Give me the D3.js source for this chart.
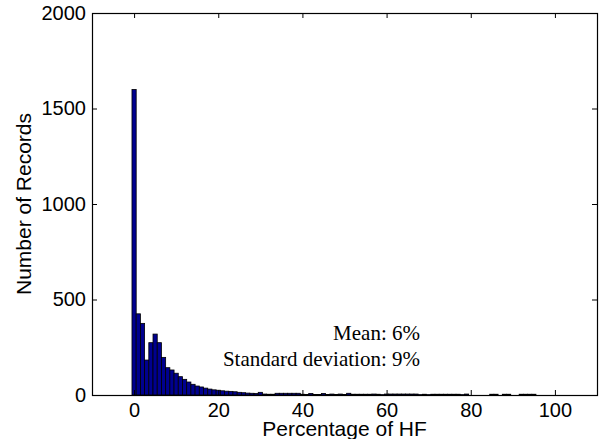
<!DOCTYPE html>
<html>
<head>
<meta charset="utf-8">
<script src="https://d3js.org/d3.v7.min.js"></script>
<style>
  body { margin: 0; background: #fff; }
  .axis text { font-family: "Liberation Sans", Arial, sans-serif; font-size: 20px; fill: #000; }
  .axis line { stroke: #000; }
</style>
</head>
<body>
<script>
//////////////// Data ////////////////////
var binCenters = d3.range(0, 101); // 0..100 %
var counts = [
  1600, 425, 375, 183, 274, 319, 274, 197, 143, 131,
  114, 96, 82, 68, 56, 47, 42, 36, 31, 27,
  25, 22, 20, 19, 17, 14, 12, 10, 9, 8,
  14, 5, 4, 4, 9, 9, 9, 9, 9, 9,
  4, 3, 8, 3, 3, 8, 3, 5, 3, 5,
  3, 9, 4, 4, 4, 4, 4, 5, 4, 2,
  5, 5, 5, 5, 5, 5, 5, 5, 2, 4,
  2, 4, 4, 4, 4, 4, 4, 4, 2, 5,
  0, 0, 0, 0, 0, 4, 4, 0, 4, 4,
  0, 0, 4, 4, 4, 4, 0, 0, 0, 0,
  0
];
var xTicks = [0, 20, 40, 60, 80, 100];
var yTicks = [0, 500, 1000, 1500, 2000];
var statLines = ["Mean: 6%", "Standard deviation: 9%"];

var bins = binCenters.map(function(c, i){
  return {x0: c - 0.5, x1: c + 0.5, n: counts[i]};
});

//////////////// Variables ////////////////////
var W = 601, H = 439;
var mLeft = 92, mRight = 597, mTop = 13, mBottom = 395;

var x = d3.scaleLinear().domain([-10, 110]).range([mLeft, mRight]);
var y = d3.scaleLinear().domain([0, 2000]).range([mBottom, mTop]);

var svg = d3.select("body").append("svg")
  .attr("width", W)
  .attr("height", H)
  .style("background", "#fff");

//////////////// Bars ////////////////////
svg.append("g").selectAll("rect")
  .data(bins)
  .enter()
  .append("rect")
  .attr("x", function(d){ return x(d.x0); })
  .attr("width", function(d){ return x(d.x1) - x(d.x0); })
  .attr("y", function(d){ return y(d.n); })
  .attr("height", function(d){ return y(0) - y(d.n); })
  .attr("fill", "#00008f")
  .attr("stroke", "#000")
  .attr("stroke-width", 0.8);

//////////////// Axes (ticks inward, matlab style) ////////////////////
var xAxis = d3.axisBottom(x).tickValues(xTicks).tickSizeInner(-5).tickSizeOuter(0).tickPadding(8).tickFormat(d3.format("d"));
var yAxis = d3.axisLeft(y).tickValues(yTicks).tickSizeInner(-5).tickSizeOuter(0).tickPadding(6).tickFormat(d3.format("d"));

svg.append("g").attr("class", "axis")
  .attr("transform", "translate(0," + mBottom + ")")
  .call(xAxis);
svg.append("g").attr("class", "axis")
  .attr("transform", "translate(" + mLeft + ",0)")
  .call(yAxis);
// top + right: ticks only
svg.append("g").attr("class", "axis")
  .attr("transform", "translate(0," + mTop + ")")
  .call(d3.axisTop(x).tickValues(xTicks).tickSizeInner(-5).tickSizeOuter(0).tickFormat(""));
svg.append("g").attr("class", "axis")
  .attr("transform", "translate(" + mRight + ",0)")
  .call(d3.axisRight(y).tickValues(yTicks).tickSizeInner(-5).tickSizeOuter(0).tickFormat(""));
svg.selectAll(".axis .domain").remove();

// box
svg.append("rect")
  .attr("x", mLeft + 0.5)
  .attr("y", mTop + 0.5)
  .attr("width", mRight - mLeft)
  .attr("height", mBottom - mTop)
  .attr("fill", "none")
  .attr("stroke", "#000")
  .attr("stroke-width", 1.2);

//////////////// Labels ////////////////////
svg.append("text")
  .attr("x", (mLeft + mRight) / 2)
  .attr("y", 436)
  .attr("text-anchor", "middle")
  .style("font-family", "'Liberation Sans', Arial, sans-serif")
  .style("font-size", "21px")
  .text("Percentage of HF");

svg.append("text")
  .attr("transform", "translate(31," + ((mTop + mBottom) / 2) + ") rotate(-90)")
  .attr("text-anchor", "middle")
  .style("font-family", "'Liberation Sans', Arial, sans-serif")
  .style("font-size", "21px")
  .text("Number of Records");

svg.selectAll("text.stat")
  .data(statLines)
  .enter()
  .append("text")
  .attr("class", "stat")
  .attr("x", 420)
  .attr("y", function(d, i){ return 340 + i * 26; })
  .attr("text-anchor", "end")
  .style("font-family", "'Liberation Serif', 'Times New Roman', serif")
  .style("font-size", "21px")
  .text(function(d){ return d; });
</script>
</body>
</html>
